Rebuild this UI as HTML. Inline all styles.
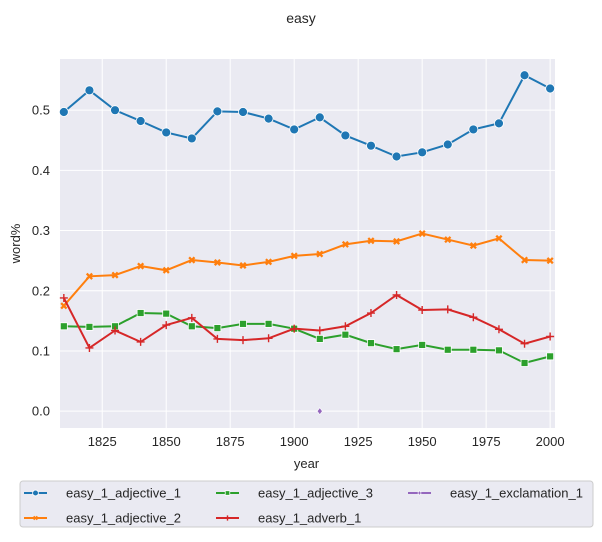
<!DOCTYPE html>
<html><head><meta charset="utf-8"><style>
body{margin:0;background:#fff;font-family:"Liberation Sans",Arial,sans-serif;}
svg text{font-family:"Liberation Sans",Arial,sans-serif;fill:#262626;}
</style></head><body>
<svg id="chart" width="602" height="537" viewBox="0 0 602 537" xmlns="http://www.w3.org/2000/svg">
<text x="301" y="23" text-anchor="middle" font-size="14">easy</text>
<rect x="60" y="59" width="495" height="369" fill="#eaeaf2"/>
<g id="grid"></g>
<g id="series"></g>
<text x="306.5" y="468" text-anchor="middle" font-size="13">year</text>
<text transform="translate(20,243.5) rotate(-90)" text-anchor="middle" font-size="13">word%</text>
<rect x="20" y="481" width="573" height="46" rx="3" fill="#eaeaf2" stroke="#cccccc" stroke-width="1"/>
<g id="legend"></g>
</svg>
<script>
const years=[1810,1820,1830,1840,1850,1860,1870,1880,1890,1900,1910,1920,1930,1940,1950,1960,1970,1980,1990,2000];
const adjective1=[0.497,0.533,0.500,0.482,0.463,0.453,0.498,0.497,0.486,0.468,0.488,0.458,0.441,0.423,0.430,0.443,0.468,0.478,0.558,0.536];
const adjective2=[0.175,0.224,0.226,0.241,0.234,0.251,0.247,0.242,0.248,0.258,0.261,0.277,0.283,0.282,0.295,0.285,0.275,0.287,0.251,0.250];
const adjective3=[0.141,0.140,0.141,0.163,0.162,0.141,0.138,0.145,0.145,0.137,0.120,0.127,0.113,0.103,0.110,0.102,0.102,0.101,0.080,0.091];
const adverb1=[0.188,0.105,0.134,0.115,0.143,0.155,0.120,0.118,0.121,0.137,0.134,0.141,0.163,0.193,0.168,0.169,0.156,0.136,0.112,0.124];
const exclamYears=[1910];
const exclamation1=[0.0];
const xTicks=[1825,1850,1875,1900,1925,1950,1975,2000];
const yTicks=[0.0,0.1,0.2,0.3,0.4,0.5];
const seriesNames=["easy_1_adjective_1","easy_1_adjective_2","easy_1_adjective_3","easy_1_adverb_1","easy_1_exclamation_1"];

const NS="http://www.w3.org/2000/svg";
const X0=60,X1=555,Y0=59,Y1=428;
const xMin=1808.5,xMax=2001.9,yMin=-0.028,yMax=0.585;
function sx(v){return X0+(v-xMin)/(xMax-xMin)*(X1-X0);}
function sy(v){return Y1-(v-yMin)/(yMax-yMin)*(Y1-Y0);}
function mk(tag,attrs,parent){const e=document.createElementNS(NS,tag);for(const k in attrs)e.setAttribute(k,attrs[k]);parent.appendChild(e);return e;}
const grid=document.getElementById('grid');
xTicks.forEach(t=>{
  const l=mk('line',{x1:sx(t),x2:sx(t),y1:Y0,y2:Y1,stroke:'#fff','stroke-width':1},grid);
  
  
  const tx=mk('text',{x:sx(t),y:Y1+18,'text-anchor':'middle','font-size':13},grid);
  tx.textContent=t;
  
  
});
yTicks.forEach(t=>{
  const l=mk('line',{x1:X0,x2:X1,y1:sy(t),y2:sy(t),stroke:'#fff','stroke-width':1},grid);
  
  
  const tx=mk('text',{x:X0-10,y:sy(t)+4.5,'text-anchor':'end','font-size':13},grid);
  tx.textContent=t.toFixed(1);
  
  
});
const colors=['#1f77b4','#ff7f0e','#2ca02c','#d62728','#9467bd'];
const markers=['circle','x','square','plus','diamond'];
function marker(g,type,x,y,c,s){
  let e;
  if(type==='circle')e=mk('circle',{cx:x,cy:y,r:4.5*s,fill:c,stroke:'#fff','stroke-width':0.8},g);
  else if(type==='square')e=mk('rect',{x:x-3.5*s,y:y-3.5*s,width:7*s,height:7*s,fill:c,stroke:'#fff','stroke-width':0.8},g);
  else if(type==='diamond')e=mk('path',{d:`M${x} ${y-3.5*s}L${x+2.6*s} ${y}L${x} ${y+3.5*s}L${x-2.6*s} ${y}Z`,fill:c,stroke:'#fff','stroke-width':0.6},g);
  else if(type==='x'){const d=2.7*s;e=mk('path',{d:`M${x-d} ${y-d}L${x+d} ${y+d}M${x-d} ${y+d}L${x+d} ${y-d}`,stroke:c,'stroke-width':2.3*s,fill:'none'},g);}
  else {const d=4*s;e=mk('path',{d:`M${x-d} ${y}L${x+d} ${y}M${x} ${y-d}L${x} ${y+d}`,stroke:c,'stroke-width':1.4,fill:'none'},g);}
  
  
}
const sg=document.getElementById('series');
const data=[[years,adjective1],[years,adjective2],[years,adjective3],[years,adverb1],[exclamYears,exclamation1]];
data.forEach((d,i)=>{
  const g=mk('g',{},sg);
  
  
  const pts=d[0].map((yr,j)=>sx(yr)+','+sy(d[1][j])).join(' ');
  if(d[0].length>1){
    const pl=mk('polyline',{points:pts,fill:'none',stroke:colors[i],'stroke-width':2},g);
    
    
  }
  d[0].forEach((yr,j)=>marker(g,markers[i],sx(yr),sy(d[1][j]),colors[i],1));
});
const lg=document.getElementById('legend');
const pos=[[24,493],[24,518],[216,493],[216,518],[408,493]];
seriesNames.forEach((n,i)=>{
  const g=mk('g',{},lg);
  
  
  const [x,y]=pos[i];
  mk('line',{x1:x,x2:x+23,y1:y,y2:y,stroke:colors[i],'stroke-width':2},g);
  marker(g,markers[i],x+11.5,y,colors[i],0.65);
  const t=mk('text',{x:x+42,y:y+4.5,'font-size':13},g);
  t.textContent=n;
});
</script>
</body></html>
